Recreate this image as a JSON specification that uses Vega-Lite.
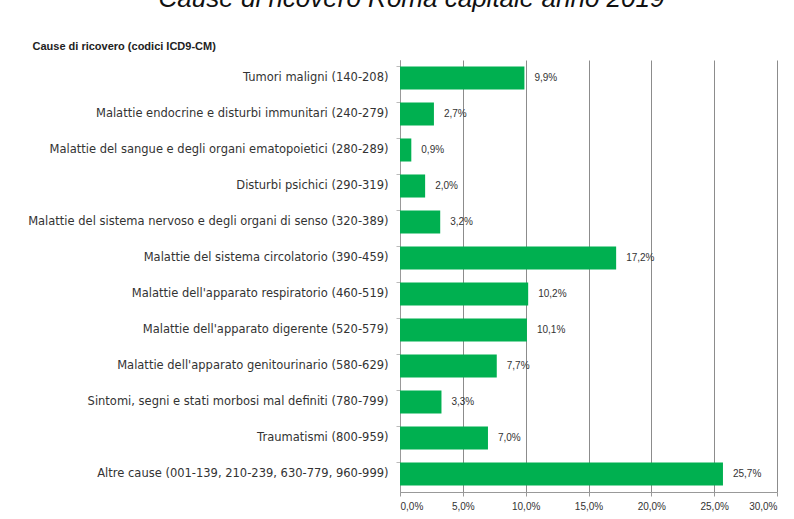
{
  "$schema": "https://vega.github.io/schema/vega-lite/v6.json",
  "autosize": {"type": "none"},
  "width": 377,
  "height": 432,
  "padding": {"left": 400, "top": 60, "right": 17, "bottom": 27},
  "background": "white",
  "title": {
    "text": "Cause di ricovero Roma capitale anno 2019",
    "anchor": "middle",
    "dx": -177,
    "offset": 28,
    "font": "Liberation Sans",
    "fontStyle": "italic",
    "fontWeight": "normal",
    "fontSize": 26,
    "color": "#111"
  },
  "config": {
    "locale": {"number": {"decimal": ",", "thousands": ".", "grouping": [3], "currency": ["€", ""]}},
    "view": {"stroke": null},
    "font": "DejaVu Sans"
  },
  "data": {
    "values": [
      {"causa": "Tumori maligni (140-208)", "valore": 0.099},
      {"causa": "Malattie endocrine e disturbi immunitari (240-279)", "valore": 0.027},
      {"causa": "Malattie del sangue e degli organi ematopoietici (280-289)", "valore": 0.009},
      {"causa": "Disturbi psichici (290-319)", "valore": 0.020},
      {"causa": "Malattie del sistema nervoso e degli organi di senso (320-389)", "valore": 0.032},
      {"causa": "Malattie del sistema circolatorio (390-459)", "valore": 0.172},
      {"causa": "Malattie dell'apparato respiratorio (460-519)", "valore": 0.102},
      {"causa": "Malattie dell'apparato digerente (520-579)", "valore": 0.101},
      {"causa": "Malattie dell'apparato genitourinario (580-629)", "valore": 0.077},
      {"causa": "Sintomi, segni e stati morbosi mal definiti (780-799)", "valore": 0.033},
      {"causa": "Traumatismi (800-959)", "valore": 0.070},
      {"causa": "Altre cause (001-139, 210-239, 630-779, 960-999)", "valore": 0.257}
    ]
  },
  "encoding": {
    "y": {
      "field": "causa",
      "type": "nominal",
      "sort": null,
      "scale": {"paddingInner": 0.36, "paddingOuter": 0.18},
      "axis": {
        "title": "Cause di ricovero (codici ICD9-CM)",
        "titleAngle": 0,
        "titleAlign": "left",
        "titleBaseline": "alphabetic",
        "titleX": -368,
        "titleY": -11,
        "titleFont": "Liberation Sans",
        "titleFontSize": 11,
        "titleFontWeight": "bold",
        "titleColor": "#222",
        "labelFontSize": 11.5,
        "labelColor": "#333",
        "labelPadding": 8,
        "labelLimit": 400,
        "domainColor": "#999",
        "tickColor": "#bbb",
        "tickSize": 4,
        "bandPosition": 0
      }
    },
    "x": {
      "field": "valore",
      "type": "quantitative",
      "scale": {"domain": [0, 0.3], "nice": false},
      "axis": {
        "title": null,
        "format": ".1%",
        "values": [0, 0.05, 0.1, 0.15, 0.2, 0.25, 0.3],
        "labelFont": "Liberation Sans",
        "labelFontSize": 10,
        "labelColor": "#333",
        "labelPadding": 5,
        "grid": true,
        "gridColor": "#8c8c8c",
        "domainColor": "#999",
        "tickColor": "#999",
        "tickSize": 4
      }
    }
  },
  "layer": [
    {"mark": {"type": "bar", "color": "#00b050"}},
    {
      "mark": {"type": "text", "align": "left", "dx": 10, "fontSize": 10, "font": "Liberation Sans", "color": "#333"},
      "encoding": {"text": {"field": "valore", "type": "quantitative", "format": ".1%"}}
    }
  ]
}
